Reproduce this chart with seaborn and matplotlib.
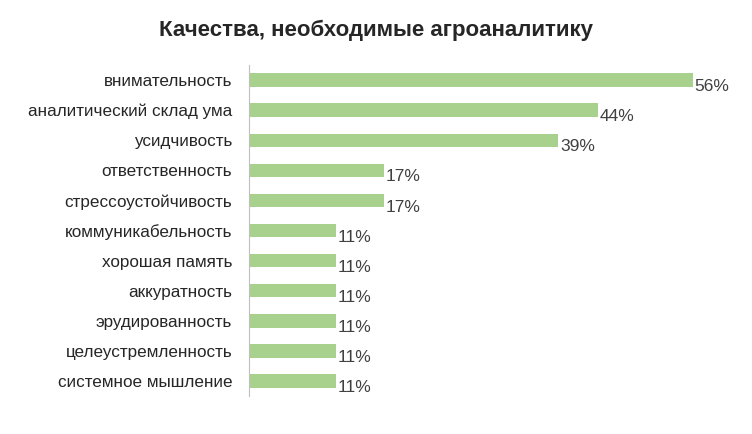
import matplotlib
matplotlib.use("Agg")
import matplotlib.pyplot as plt
import seaborn as sns
import pandas as pd

categories = ["внимательность", "аналитический склад ума", "усидчивость", "ответственность",
              "стрессоустойчивость", "коммуникабельность", "хорошая память", "аккуратность",
              "эрудированность", "целеустремленность", "системное мышление"]
values = [56, 44, 39, 17, 17, 11, 11, 11, 11, 11, 11]

df = pd.DataFrame({"cat": categories, "val": values})
plt.rcParams["font.family"] = "Liberation Sans"
fig = plt.figure(figsize=(7.52, 4.34), dpi=100)
ax = fig.add_axes([0.331, 0.0876, 0.633, 0.7624])
sns.barplot(data=df, x="val", y="cat", color="#a9d18e", width=0.45, ax=ax, saturation=1)
ax.set_xlim(0, 60)
ax.set_ylim(10.5, -0.5)
for i, v in enumerate(values):
    ax.text(v + 0.2, i + 0.22, f"{v}%", va="center", ha="left", fontsize=12.5, color="#404040")
ax.set_xlabel(""); ax.set_ylabel("")
ax.set_xticks([])
ax.tick_params(axis="y", length=0, labelsize=12.3, labelcolor="#262626", pad=12)
for s in ["top", "right", "bottom"]:
    ax.spines[s].set_visible(False)
ax.spines["left"].set_color("#bfbfbf")
fig.text(0.5, 0.93, "Качества, необходимые агроаналитику", ha="center", va="center",
         fontsize=16, fontweight="bold", color="#262626")
fig.savefig("out.png", dpi=100)
